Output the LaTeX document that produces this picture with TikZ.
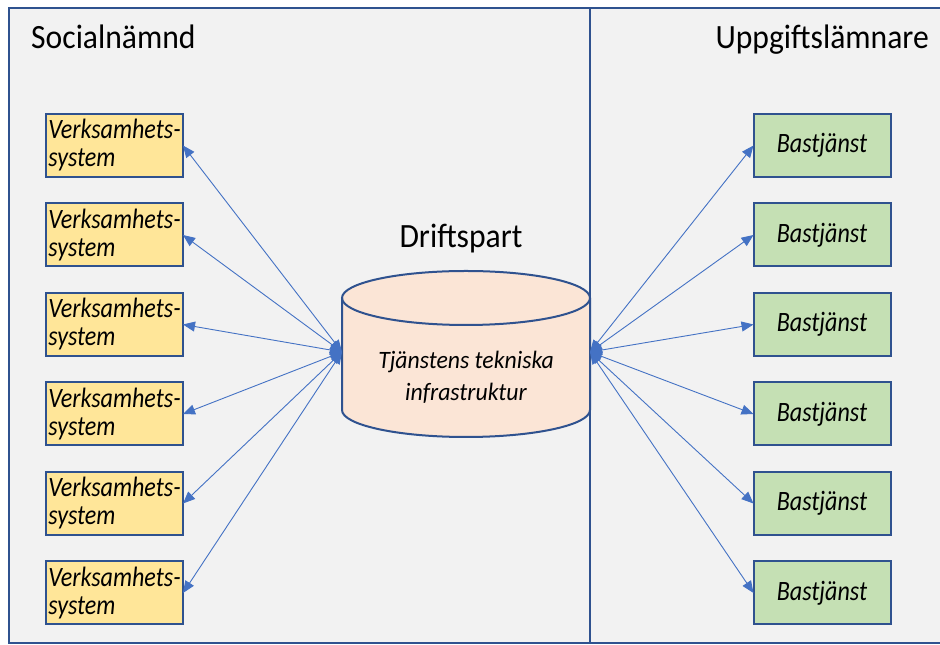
\documentclass[tikz,border=0pt]{standalone}
\usepackage{fontspec}
\setmainfont{Carlito}
\newfontfamily\titlefont[FakeStretch=0.93]{Carlito}
\newfontfamily\boxfont[FakeStretch=0.86]{Carlito}
\newfontfamily\storefont[FakeStretch=0.95]{Carlito}
\usepackage{tikz}
\usetikzlibrary{arrows.meta, positioning}
\definecolor{colorFrame}{HTML}{F2F2F2}
\definecolor{colorBorder}{HTML}{2F528F}
\definecolor{colorLink}{HTML}{4472C4}
\definecolor{colorSystem}{HTML}{FFE699}
\definecolor{colorService}{HTML}{C5E0B4}
\definecolor{colorStore}{HTML}{FBE5D6}
\tikzset{
  title/.style={font=\titlefont\fontsize{34}{38}\selectfont, inner sep=0pt},
  box/.style={draw=colorBorder, line width=2pt, minimum width=137pt, minimum height=63pt,
    inner sep=1pt, outer sep=0pt, font=\boxfont\itshape\fontsize{28}{28}\selectfont},
  system/.style={box, fill=colorSystem, align=left},
  service/.style={box, fill=colorService},
  link/.style={<->, colorLink, line width=0.9pt},
}

\begin{document}
\begin{tikzpicture}[x=1pt, y=1pt, >={Triangle[length=12pt, width=10pt]}, node distance=26.5pt]
\useasboundingbox (0,0) rectangle (940,645);
% frame and divider
\draw[colorBorder, line width=2pt, fill=colorFrame] (9,2) rectangle (946,637);
\draw[colorBorder, line width=2pt] (590,637) -- (590,2);
% titles
\node[title, anchor=base west] (soc) at (31,596) {Socialnämnd};
\node[title, anchor=base east] (upp) at (929,596) {Uppgiftslämnare};
\node[title, anchor=base] (drift) at (461,397) {Driftspart};
% cylinder
\fill[colorStore] (342,347) -- (342,235) arc[start angle=180, end angle=360, x radius=124, y radius=27] -- (590,347) arc[start angle=0, end angle=180, x radius=124, y radius=27] -- cycle;
\draw[colorBorder, line width=2pt] (342,347) -- (342,235) arc[start angle=180, end angle=360, x radius=124, y radius=27] -- (590,347);
\draw[colorBorder, line width=2pt] (466,347) ellipse [x radius=124, y radius=27];
\node[align=center, font=\storefont\itshape\fontsize{25}{32}\selectfont] (infra) at (466,268) {Tjänstens tekniska\\infrastruktur};
\coordinate (cylL) at (342,293);
\coordinate (cylR) at (590,293);
% left boxes
\node[system] (v1) at (114.5,499.5) {Verksamhets-\\system};
\node[system, below=of v1] (v2) {Verksamhets-\\system};
\node[system, below=of v2] (v3) {Verksamhets-\\system};
\node[system, below=of v3] (v4) {Verksamhets-\\system};
\node[system, below=of v4] (v5) {Verksamhets-\\system};
\node[system, below=of v5] (v6) {Verksamhets-\\system};
% right boxes
\node[service] (b1) at (822,499.5) {Bastjänst};
\node[service, below=of b1] (b2) {Bastjänst};
\node[service, below=of b2] (b3) {Bastjänst};
\node[service, below=of b3] (b4) {Bastjänst};
\node[service, below=of b4] (b5) {Bastjänst};
\node[service, below=of b5] (b6) {Bastjänst};
% links
\draw[link] (cylL) -- (v1.east);
\draw[link] (cylL) -- (v2.east);
\draw[link] (cylL) -- (v3.east);
\draw[link] (cylL) -- (v4.east);
\draw[link] (cylL) -- (v5.east);
\draw[link] (cylL) -- (v6.east);
\draw[link] (cylR) -- (b1.west);
\draw[link] (cylR) -- (b2.west);
\draw[link] (cylR) -- (b3.west);
\draw[link] (cylR) -- (b4.west);
\draw[link] (cylR) -- (b5.west);
\draw[link] (cylR) -- (b6.west);
\end{tikzpicture}
\end{document}
